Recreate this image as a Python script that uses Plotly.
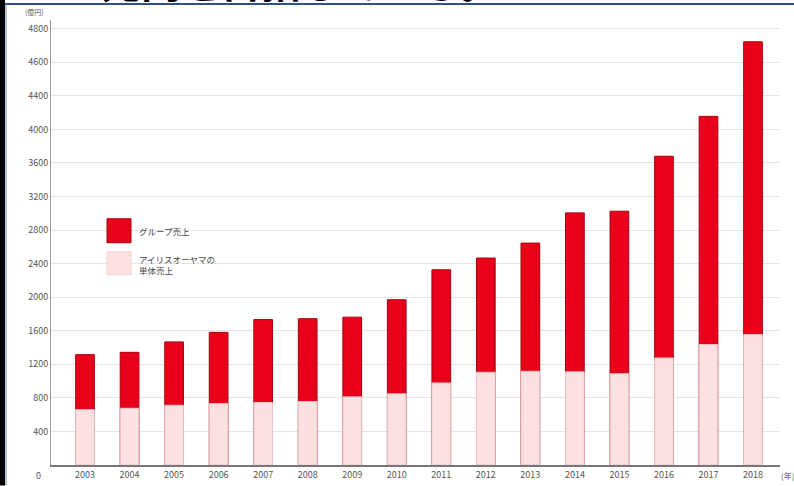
import plotly.graph_objects as go

years = list(range(2003, 2019))
group_sales = [1315, 1343, 1467, 1581, 1733, 1744, 1762, 1970, 2327, 2467, 2645, 3005, 3025, 3680, 4155, 5045]
single_sales = [660, 676, 712, 732, 744, 756, 812, 848, 978, 1105, 1117, 1110, 1088, 1276, 1435, 1554]
y_tickvals = [400, 800, 1200, 1600, 2000, 2400, 2800, 3200, 3600, 4000, 4400, 4800, 5200]
y_ticktext = ["400", "800", "1200", "1600", "2000", "2400", "2800", "3200", "3600", "4000", "4400", "4600", "4800"]
legend_group = "グループ売上"
legend_single = "アイリスオーヤマの<br>単体売上"

W, H = 794, 486
L, R, T, B = 51, 14, 20, 20.5
pw, ph = W - L - R, H - T - B

def px(x):
    return (x - L) / pw

def py(y):
    return (H - B - y) / ph

FONT = "Noto Sans CJK JP"
TXT = "#555555"

fig = go.Figure()
fig.add_trace(go.Bar(x=years, y=group_sales, width=0.42, name="group",
                     marker=dict(color="#e8001a", line=dict(color="#a8000f", width=1))))
fig.add_trace(go.Bar(x=years, y=single_sales, width=0.42, name="single",
                     marker=dict(color="#fde1e1", line=dict(color="#e6c4c4", width=1))))

shapes = [
    dict(type="rect", xref="paper", yref="paper", x0=px(0), x1=px(5), y0=py(H), y1=py(0),
         fillcolor="black", line=dict(width=0), layer="above"),
    dict(type="line", xref="paper", yref="paper", x0=px(5), x1=px(W), y0=py(4), y1=py(4),
         line=dict(color="#2f4f8f", width=2)),
    dict(type="line", xref="paper", yref="paper", x0=px(6), x1=px(6), y0=py(4), y1=py(H),
         line=dict(color="#6f86b6", width=1)),
    dict(type="rect", xref="paper", yref="paper", x0=px(107), x1=px(131), y0=py(243), y1=py(219),
         fillcolor="#e8001a", line=dict(color="#a8000f", width=1)),
    dict(type="rect", xref="paper", yref="paper", x0=px(107), x1=px(131), y0=py(275), y1=py(252),
         fillcolor="#fde1e1", line=dict(color="#f3d3d3", width=1)),
]

annotations = [
    dict(text="<b>兆円を目指している。</b>", xref="paper", yref="paper", x=px(300), y=py(12),
         xanchor="center", yanchor="bottom", showarrow=False,
         font=dict(family=FONT, size=40, color="black")),
    dict(text="(億円)", xref="paper", yref="paper", x=px(46), y=py(12), xanchor="right", yanchor="middle",
         showarrow=False, font=dict(family=FONT, size=7, color=TXT)),
    dict(text="0", xref="paper", yref="paper", x=px(43), y=py(476), xanchor="right", yanchor="middle",
         showarrow=False, font=dict(family=FONT, size=9, color=TXT)),
    dict(text="(年)", xref="paper", yref="paper", x=px(779), y=py(476), xanchor="left", yanchor="middle",
         showarrow=False, font=dict(family=FONT, size=8, color=TXT)),
    dict(text=legend_group, xref="paper", yref="paper", x=px(137), y=py(231), xanchor="left", yanchor="middle",
         showarrow=False, font=dict(family=FONT, size=8.5, color="#444444")),
    dict(text=legend_single, xref="paper", yref="paper", x=px(137), y=py(265), xanchor="left", yanchor="middle",
         align="left", showarrow=False, font=dict(family=FONT, size=8.5, color="#444444")),
]

fig.update_layout(
    width=W, height=H, barmode="overlay", showlegend=False,
    margin=dict(l=L, r=R, t=T, b=B, pad=0, autoexpand=False),
    paper_bgcolor="white", plot_bgcolor="white",
    font=dict(family=FONT, size=9, color=TXT),
    shapes=shapes, annotations=annotations,
    xaxis=dict(range=[2002.236, 2018.606], tickmode="array", tickvals=years,
               ticktext=[str(y) for y in years], showgrid=False, zeroline=False, automargin=False,
               showline=True, linecolor="#777777", linewidth=1.5, ticks="",
               tickfont=dict(size=9, color=TXT)),
    yaxis=dict(range=[0, 5304], tickmode="array", tickvals=y_tickvals, ticktext=y_ticktext,
               showgrid=True, gridcolor="#e4e4e4", gridwidth=1, zeroline=False, automargin=False,
               showline=True, linecolor="#999999", linewidth=1, ticks="",
               tickfont=dict(size=9, color=TXT)),
)

fig.write_html("out.html", config={"displayModeBar": False},
               post_script="document.body.style.margin='0';document.body.style.overflow='hidden';")
